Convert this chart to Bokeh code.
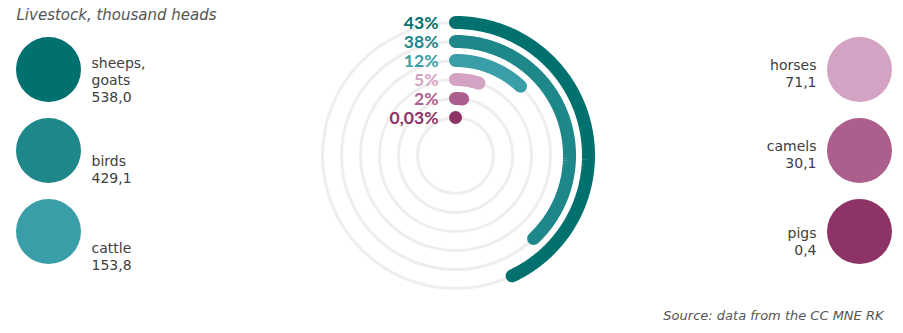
import math

from bokeh.core.properties import value
from bokeh.embed import file_html
from bokeh.models import Range1d
from bokeh.plotting import figure
from bokeh.resources import INLINE

# Livestock data (thousand heads) and shares of the total
categories = ["sheeps, goats", "birds", "cattle", "horses", "camels", "pigs"]
name_lines = [["sheeps,", "goats"], ["birds"], ["cattle"], ["horses"], ["camels"], ["pigs"]]
heads = [538.0, 429.1, 153.8, 71.1, 30.1, 0.4]
shares = [43, 38, 12, 5, 2, 0.03]
share_labels = ["43%", "38%", "12%", "5%", "2%", "0,03%"]
colors = ["#00716f", "#1e878a", "#3a9ea8", "#d4a3c3", "#ac5f8c", "#8d3366"]

W, H = 903, 333
p = figure(width=W, height=H, output_backend="svg", toolbar_location=None,
           x_range=Range1d(0, W), y_range=Range1d(H, 0), min_border=0)
p.axis.visible = False
p.grid.visible = False
p.outline_line_color = None
p.background_fill_color = "white"
p.border_fill_color = "white"

# radial chart: centre and ring radii (outermost first)
cx, cy = 455, 155
radii = [133, 114, 95, 76, 57, 38]

p.circle(x=[cx] * len(radii), y=[cy] * len(radii), radius=radii,
         fill_color=None, line_color="#eeeeee", line_width=3)

xs, ys = [], []
for r, s in zip(radii, shares):
    end = 2 * math.pi * s / 100.0
    n = max(2, int(s * 3) + 2)
    angs = [end * i / (n - 1) for i in range(n)]
    xs.append([cx + r * math.sin(a) for a in angs])
    ys.append([cy - r * math.cos(a) for a in angs])
p.multi_line(xs=xs, ys=ys, line_color=colors, line_width=13, line_cap="round")

p.text(x=[cx - 17] * len(radii), y=[cy - r for r in radii], text=share_labels,
       text_color=colors, text_font=value("Lato"), text_font_style="bold",
       text_font_size="17.5px", text_align="right", text_baseline="middle")

# legend bubbles with names and values
bub_x = [48, 48, 48, 859, 859, 859]
bub_y = [69, 150, 231, 69, 150, 231]
p.circle(x=bub_x, y=bub_y, radius=32.5, fill_color=colors, line_color=None)

val_y = [96, 177, 264, 81, 162, 249]
line_h = 17
tx, ty, tt, ta = [], [], [], []
for i, (names, v) in enumerate(zip(name_lines, heads)):
    left = i < 3
    x = 91 if left else 816
    align = "left" if left else "right"
    lines = names + [f"{v:.1f}".replace(".", ",")]
    for j, line in enumerate(lines):
        tx.append(x)
        ty.append(val_y[i] - line_h * (len(lines) - 1 - j))
        tt.append(line)
        ta.append(align)
left_idx = [k for k in range(len(tt)) if ta[k] == "left"]
right_idx = [k for k in range(len(tt)) if ta[k] == "right"]
for idx, align in ((left_idx, "left"), (right_idx, "right")):
    p.text(x=[tx[k] for k in idx], y=[ty[k] for k in idx], text=[tt[k] for k in idx],
           text_color="#404040", text_font=value("DejaVu Sans"), text_font_size="14px",
           text_align=align, text_baseline="middle")

p.text(x=[16], y=[14], text=["Livestock, thousand heads"], text_color="#555555",
       text_font=value("DejaVu Sans"), text_font_style="italic", text_font_size="15px",
       text_align="left", text_baseline="middle")
p.text(x=[883], y=[315], text=["Source: data from the CC MNE RK"], text_color="#555555",
       text_font=value("DejaVu Sans"), text_font_style="italic", text_font_size="13px",
       text_align="right", text_baseline="middle")

open("out.html", "w").write(file_html(p, INLINE))
